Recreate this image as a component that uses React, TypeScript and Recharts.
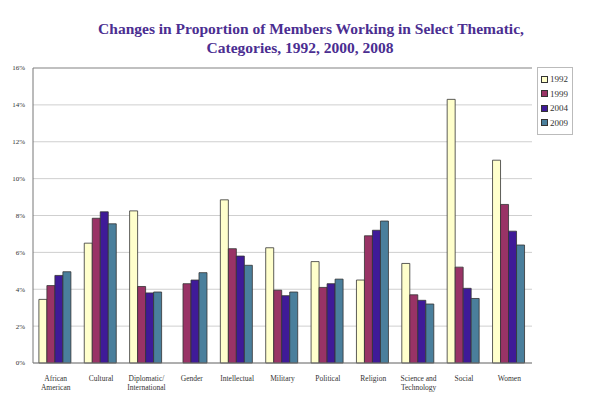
import React from 'react';
import {
  BarChart,
  Bar,
  XAxis,
  YAxis,
  CartesianGrid,
  ReferenceLine,
} from 'recharts';

const categories = [
  'African\nAmerican',
  'Cultural',
  'Diplomatic/\nInternational',
  'Gender',
  'Intellectual',
  'Military',
  'Political',
  'Religion',
  'Science and\nTechnology',
  'Social',
  'Women',
];

const y1992 = [3.45, 6.5, 8.25, null, 8.85, 6.25, 5.5, 4.5, 5.4, 14.3, 11.0];
const y1999 = [4.2, 7.85, 4.15, 4.3, 6.2, 3.95, 4.1, 6.9, 3.7, 5.2, 8.6];
const y2004 = [4.75, 8.2, 3.8, 4.5, 5.8, 3.65, 4.3, 7.2, 3.4, 4.05, 7.15];
const y2009 = [4.95, 7.55, 3.85, 4.9, 5.3, 3.85, 4.55, 7.7, 3.2, 3.5, 6.4];

const yTicks = [0, 2, 4, 6, 8, 10, 12, 14, 16];

const series = [
  { key: 'y1992', name: '1992', color: '#FFFFCC' },
  { key: 'y1999', name: '1999', color: '#993366' },
  { key: 'y2004', name: '2004', color: '#3F1A98' },
  { key: 'y2009', name: '2009', color: '#4A7F9C' },
];

const data = categories.map((c, i) => ({
  category: c,
  y1992: y1992[i],
  y1999: y1999[i],
  y2004: y2004[i],
  y2009: y2009[i],
}));

const FONT = '"Liberation Serif", "DejaVu Serif", serif';

const CategoryTick = ({ x, y, payload }: any) => {
  const lines = String(payload.value).split('\n');
  return (
    <text x={x} y={y + 10} textAnchor="middle" fontSize={7.5} fill="#333" fontFamily={FONT}>
      {lines.map((l, i) => (
        <tspan key={i} x={x} dy={i === 0 ? 0 : 9}>
          {l}
        </tspan>
      ))}
    </text>
  );
};

const LegendBox = () => (
  <div
    style={{
      position: 'absolute',
      left: 537,
      top: 67,
      width: 31,
      border: '1px solid #bbb',
      padding: '4px 0 4px 3px',
      fontFamily: FONT,
      fontSize: 9,
      color: '#333',
      background: '#fff',
    }}
  >
    {series.map(s => (
      <div key={s.key} style={{ display: 'flex', alignItems: 'center', height: 14.5 }}>
        <span
          style={{
            display: 'inline-block',
            width: 5,
            height: 5,
            background: s.color,
            border: '1px solid #333',
            marginRight: 2,
          }}
        />
        {s.name}
      </div>
    ))}
  </div>
);

export default function App() {
  return (
    <div style={{ position: 'absolute', left: 0, top: 0, width: 600, height: 416, background: '#fff' }}>
      <div
        style={{
          position: 'absolute',
          left: 0,
          top: 19,
          width: 600,
          textAlign: 'center',
          fontFamily: FONT,
          fontSize: 15.5,
          fontWeight: 'bold',
          color: '#4B2E91',
          lineHeight: '19px',
        }}
      >
        <div style={{ paddingLeft: 22 }}>Changes in Proportion of Members Working in Select Thematic,</div>
        <div>Categories, 1992, 2000, 2008</div>
      </div>
      <BarChart
        width={600}
        height={416}
        data={data}
        margin={{ top: 68, right: 68, left: 8, bottom: 23 }}
        barCategoryGap="13%"
        barGap={0}
      >
        <CartesianGrid vertical={false} stroke="#cfcfcf" />
        <XAxis
          dataKey="category"
          interval={0}
          height={30}
          tick={<CategoryTick />}
          tickLine={false}
          axisLine={{ stroke: '#777' }}
        />
        <YAxis
          domain={[0, 16]}
          ticks={yTicks}
          width={25}
          tickFormatter={(v: number) => `${v}%`}
          tick={{ fontSize: 7, fill: '#333', fontFamily: FONT }}
          tickLine={false}
          axisLine={{ stroke: '#777' }}
        />
        <YAxis yAxisId="r" orientation="right" width={0} tick={false} tickLine={false} axisLine={{ stroke: '#999' }} />
        <ReferenceLine y={16} stroke="#999" />
        {series.map(s => (
          <Bar
            key={s.key}
            dataKey={s.key}
            name={s.name}
            fill={s.color}
            stroke="#333"
            strokeWidth={0.8}
            isAnimationActive={false}
          />
        ))}
      </BarChart>
      <LegendBox />
    </div>
  );
}
